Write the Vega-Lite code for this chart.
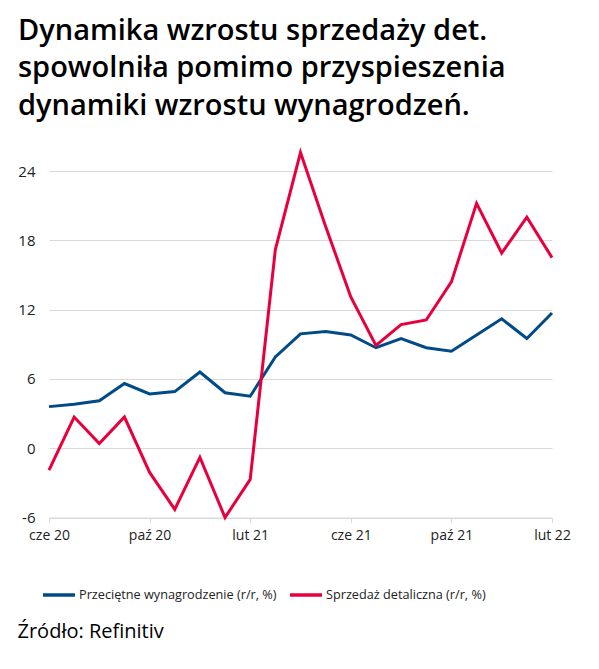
{
  "$schema": "https://vega.github.io/schema/vega-lite/v6.json",
  "autosize": {"type": "none"},
  "padding": {"left": 49, "top": 171, "right": 47, "bottom": 151},
  "width": 503,
  "height": 346.5,
  "background": "white",
  "config": {
    "font": "Open Sans",
    "view": {"stroke": null}
  },
  "title": {
    "text": ["Dynamika wzrostu sprzedaży det.", "spowolniła pomimo przyspieszenia", "dynamiki wzrostu wynagrodzeń."],
    "anchor": "start",
    "frame": "group",
    "dx": -31,
    "offset": 26,
    "fontSize": 29,
    "fontWeight": 600,
    "lineHeight": 37.5,
    "color": "#000000"
  },
  "data": {
    "values": [
      {"month": "cze 20", "series": "Przeciętne wynagrodzenie (r/r, %)", "value": 3.6},
      {"month": "lip 20", "series": "Przeciętne wynagrodzenie (r/r, %)", "value": 3.8},
      {"month": "sie 20", "series": "Przeciętne wynagrodzenie (r/r, %)", "value": 4.1},
      {"month": "wrz 20", "series": "Przeciętne wynagrodzenie (r/r, %)", "value": 5.6},
      {"month": "paź 20", "series": "Przeciętne wynagrodzenie (r/r, %)", "value": 4.7},
      {"month": "lis 20", "series": "Przeciętne wynagrodzenie (r/r, %)", "value": 4.9},
      {"month": "gru 20", "series": "Przeciętne wynagrodzenie (r/r, %)", "value": 6.6},
      {"month": "sty 21", "series": "Przeciętne wynagrodzenie (r/r, %)", "value": 4.8},
      {"month": "lut 21", "series": "Przeciętne wynagrodzenie (r/r, %)", "value": 4.5},
      {"month": "mar 21", "series": "Przeciętne wynagrodzenie (r/r, %)", "value": 7.9},
      {"month": "kwi 21", "series": "Przeciętne wynagrodzenie (r/r, %)", "value": 9.9},
      {"month": "maj 21", "series": "Przeciętne wynagrodzenie (r/r, %)", "value": 10.1},
      {"month": "cze 21", "series": "Przeciętne wynagrodzenie (r/r, %)", "value": 9.8},
      {"month": "lip 21", "series": "Przeciętne wynagrodzenie (r/r, %)", "value": 8.7},
      {"month": "sie 21", "series": "Przeciętne wynagrodzenie (r/r, %)", "value": 9.5},
      {"month": "wrz 21", "series": "Przeciętne wynagrodzenie (r/r, %)", "value": 8.7},
      {"month": "paź 21", "series": "Przeciętne wynagrodzenie (r/r, %)", "value": 8.4},
      {"month": "lis 21", "series": "Przeciętne wynagrodzenie (r/r, %)", "value": 9.8},
      {"month": "gru 21", "series": "Przeciętne wynagrodzenie (r/r, %)", "value": 11.2},
      {"month": "sty 22", "series": "Przeciętne wynagrodzenie (r/r, %)", "value": 9.5},
      {"month": "lut 22", "series": "Przeciętne wynagrodzenie (r/r, %)", "value": 11.7},
      {"month": "cze 20", "series": "Sprzedaż detaliczna (r/r, %)", "value": -1.9},
      {"month": "lip 20", "series": "Sprzedaż detaliczna (r/r, %)", "value": 2.7},
      {"month": "sie 20", "series": "Sprzedaż detaliczna (r/r, %)", "value": 0.4},
      {"month": "wrz 20", "series": "Sprzedaż detaliczna (r/r, %)", "value": 2.7},
      {"month": "paź 20", "series": "Sprzedaż detaliczna (r/r, %)", "value": -2.1},
      {"month": "lis 20", "series": "Sprzedaż detaliczna (r/r, %)", "value": -5.3},
      {"month": "gru 20", "series": "Sprzedaż detaliczna (r/r, %)", "value": -0.8},
      {"month": "sty 21", "series": "Sprzedaż detaliczna (r/r, %)", "value": -6.0},
      {"month": "lut 21", "series": "Sprzedaż detaliczna (r/r, %)", "value": -2.7},
      {"month": "mar 21", "series": "Sprzedaż detaliczna (r/r, %)", "value": 17.2},
      {"month": "kwi 21", "series": "Sprzedaż detaliczna (r/r, %)", "value": 25.6},
      {"month": "maj 21", "series": "Sprzedaż detaliczna (r/r, %)", "value": 19.2},
      {"month": "cze 21", "series": "Sprzedaż detaliczna (r/r, %)", "value": 13.1},
      {"month": "lip 21", "series": "Sprzedaż detaliczna (r/r, %)", "value": 8.9},
      {"month": "sie 21", "series": "Sprzedaż detaliczna (r/r, %)", "value": 10.7},
      {"month": "wrz 21", "series": "Sprzedaż detaliczna (r/r, %)", "value": 11.1},
      {"month": "paź 21", "series": "Sprzedaż detaliczna (r/r, %)", "value": 14.4},
      {"month": "lis 21", "series": "Sprzedaż detaliczna (r/r, %)", "value": 21.2},
      {"month": "gru 21", "series": "Sprzedaż detaliczna (r/r, %)", "value": 16.9},
      {"month": "sty 22", "series": "Sprzedaż detaliczna (r/r, %)", "value": 20.0},
      {"month": "lut 22", "series": "Sprzedaż detaliczna (r/r, %)", "value": 16.5}
    ]
  },
  "mark": {"type": "line", "strokeWidth": 3, "clip": false, "strokeJoin": "miter"},
  "encoding": {
    "x": {
      "field": "month",
      "type": "ordinal",
      "sort": null,
      "scale": {"type": "point", "padding": 0},
      "axis": {
        "values": ["cze 20", "paź 20", "lut 21", "cze 21", "paź 21", "lut 22"],
        "labelAngle": 0,
        "labelFontSize": 14,
        "labelColor": "#222222",
        "labelPadding": 6,
        "domain": true,
        "domainColor": "#d9d9d9",
        "tickColor": "#d9d9d9",
        "tickSize": 5,
        "grid": false,
        "title": "Źródło: Refinitiv",
        "titleFontSize": 20,
        "titleFontWeight": "normal",
        "titleColor": "#000000",
        "titleAnchor": "start",
        "titleAlign": "left",
        "titleBaseline": "alphabetic",
        "titleX": -32,
        "titleY": 120
      }
    },
    "y": {
      "field": "value",
      "type": "quantitative",
      "scale": {"domain": [-6, 24], "nice": false, "zero": false},
      "axis": {
        "values": [-6, 0, 6, 12, 18, 24],
        "labelExpr": "'' + datum.value",
        "title": null,
        "domain": false,
        "ticks": false,
        "labelPadding": 14,
        "labelFontSize": 15,
        "labelColor": "#222222",
        "gridColor": "#d9d9d9",
        "gridWidth": 1
      }
    },
    "color": {
      "field": "series",
      "type": "nominal",
      "scale": {
        "domain": ["Przeciętne wynagrodzenie (r/r, %)", "Sprzedaż detaliczna (r/r, %)"],
        "range": ["#004b87", "#e8003c"]
      },
      "legend": {
        "title": null,
        "orient": "none",
        "direction": "horizontal",
        "legendX": -8,
        "legendY": 406,
        "symbolType": "stroke",
        "symbolSize": 1024,
        "symbolStrokeWidth": 3.5,
        "labelFontSize": 12.7,
        "labelLimit": 300,
        "labelColor": "#222222",
        "labelOffset": 2,
        "columnPadding": 6
      }
    }
  }
}
